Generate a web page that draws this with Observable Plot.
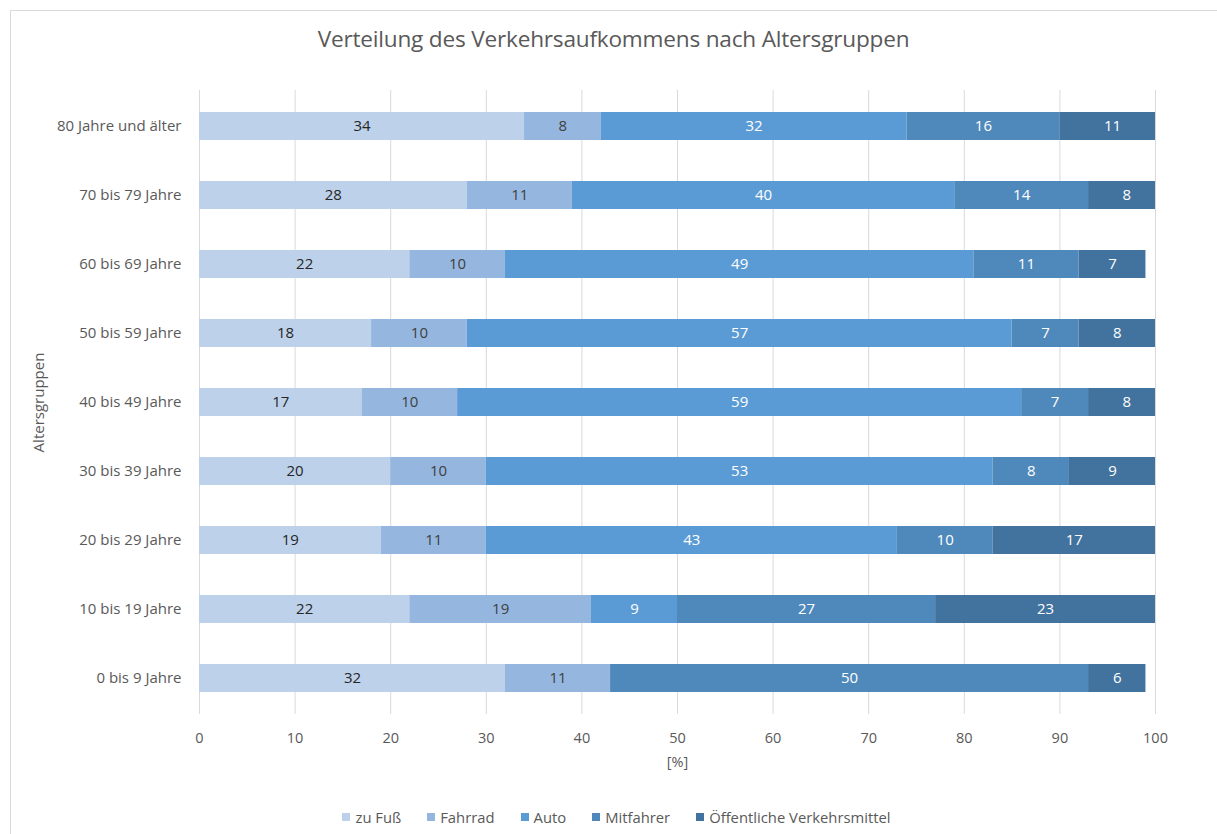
<!DOCTYPE html>
<html>
<head>
<meta charset="utf-8">
<script src="https://cdn.jsdelivr.net/npm/d3@7"></script>
<script src="https://cdn.jsdelivr.net/npm/@observablehq/plot@0.6"></script>
<style>
  html, body { margin: 0; padding: 0; background: #fff; }
  body { width: 1217px; height: 834px; position: relative; overflow: hidden; font-family: "Open Sans", sans-serif; }
  #frame { position: absolute; left: 10px; top: 10px; width: 1220px; height: 840px; border: 1px solid #d9d9d9; box-sizing: border-box; }
  #title { position: absolute; left: 0; top: 23px; width: 1227px; text-align: center; font-size: 22.6px; color: #595959; font-family: "Open Sans", sans-serif; letter-spacing: -0.2px; }
  #chart { position: absolute; left: 0; top: 0; }
  #legend { position: absolute; left: 0; top: 807px; width: 1233px; display: flex; justify-content: center; gap: 26px; font-size: 14.8px; color: #595959; }
  #legend span.item { display: inline-flex; align-items: center; }
  #legend span.sw { display: inline-block; width: 8px; height: 8px; margin-right: 5px; }
</style>
</head>
<body>
<div id="frame"></div>
<div id="title">Verteilung des Verkehrsaufkommens nach Altersgruppen</div>
<div id="chart"></div>
<div id="legend"></div>
<script>
const ageGroups = ["80 Jahre und älter", "70 bis 79 Jahre", "60 bis 69 Jahre", "50 bis 59 Jahre", "40 bis 49 Jahre", "30 bis 39 Jahre", "20 bis 29 Jahre", "10 bis 19 Jahre", "0 bis 9 Jahre"];
const modes = ["zu Fuß", "Fahrrad", "Auto", "Mitfahrer", "Öffentliche Verkehrsmittel"];
const zuFuss    = [34, 28, 22, 18, 17, 20, 19, 22, 32];
const fahrrad   = [8, 11, 10, 10, 10, 10, 11, 19, 11];
const auto      = [32, 40, 49, 57, 59, 53, 43, 9, 0];
const mitfahrer = [16, 14, 11, 7, 7, 8, 10, 27, 50];
const oev       = [11, 8, 7, 8, 8, 9, 17, 23, 6];
const xTicks = [0, 10, 20, 30, 40, 50, 60, 70, 80, 90, 100];
const colors = ["#BDD1EA", "#95B7DF", "#5B9BD5", "#4F89BC", "#42729E"];
const labelColors = ["#262626", "#404040", "#ffffff", "#ffffff", "#ffffff"];

const series = [zuFuss, fahrrad, auto, mitfahrer, oev];
const data = [];
ageGroups.forEach((g, i) => {
  modes.forEach((m, j) => {
    data.push({group: g, mode: m, value: series[j][i], mi: j});
  });
});

const font = "Open Sans, sans-serif";
const chart = Plot.plot({
  width: 1217,
  height: 775,
  marginLeft: 199,
  marginRight: 62,
  marginTop: 90,
  marginBottom: 61,
  style: {fontFamily: font, fontSize: "14px", color: "#595959", background: "transparent", overflow: "visible"},
  x: {domain: [0, 100], ticks: xTicks},
  y: {domain: ageGroups, paddingInner: 0.6, paddingOuter: 0.3},
  color: {domain: modes, range: colors},
  marks: [
    Plot.ruleX(xTicks, {stroke: "#d9d9d9", strokeWidth: 1}),
    Plot.axisX({ticks: xTicks, tickSize: 0, tickPadding: 18, label: "[%]", labelAnchor: "center", labelArrow: "none", labelOffset: 52, fontSize: 14.5, fill: "#595959"}),
    Plot.axisY({tickSize: 0, tickPadding: 18, label: "Altersgruppen", labelAnchor: "center", labelArrow: "none", labelOffset: 166, fontSize: 15, fill: "#595959"}),
    Plot.barX(data, Plot.stackX({y: "group", x: "value", fill: "mode", order: null, clip: true})),
    ...modes.map((m, j) => Plot.text(data, Plot.stackX({
      y: "group", x: "value", z: "mode", order: null,
      text: d => d.mode === m && d.value > 0 ? String(d.value) : null,
      fill: labelColors[j], fontSize: 15
    })))
  ]
});
document.getElementById("chart").appendChild(chart);

const leg = document.getElementById("legend");
modes.forEach((m, j) => {
  const it = document.createElement("span");
  it.className = "item";
  const sw = document.createElement("span");
  sw.className = "sw";
  sw.style.background = colors[j];
  it.appendChild(sw);
  it.appendChild(document.createTextNode(m));
  leg.appendChild(it);
});
</script>
</body>
</html>
